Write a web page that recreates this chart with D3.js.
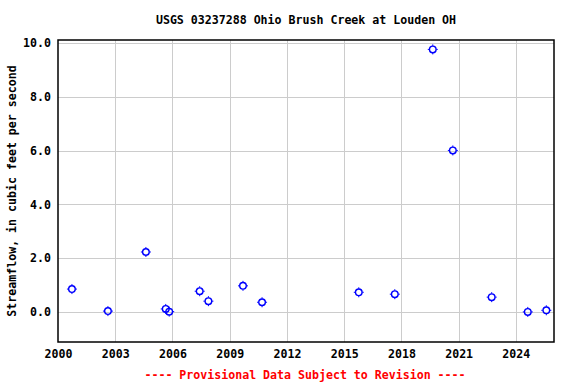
<!DOCTYPE html>
<html>
<head>
<meta charset="utf-8">
<script src="https://cdn.jsdelivr.net/npm/d3@7"></script>
<style>
  body { margin: 0; background: white; }
  text { font-family: "DejaVu Sans Mono", "Liberation Mono", monospace; font-weight: bold; }
</style>
</head>
<body>
<div id="chart"></div>
<script>
const dates = ["2000-09-24", "2002-08-14", "2004-08-10", "2005-08-25", "2005-10-30",
  "2007-06-06", "2007-11-20", "2009-09-12", "2010-09-12", "2015-10-08",
  "2017-08-28", "2019-08-25", "2020-09-12", "2022-09-26", "2024-08-17", "2025-08-07"];
const flows = [0.85, 0.03, 2.23, 0.11, 0.01, 0.77, 0.40, 0.97, 0.36, 0.73,
  0.66, 9.77, 6.01, 0.55, 0.0, 0.06];
const yTicks = [0, 2, 4, 6, 8, 10];
const xTickYears = [2000, 2003, 2006, 2009, 2012, 2015, 2018, 2021, 2024];

const title = "USGS 03237288 Ohio Brush Creek at Louden OH";
const yLabel = "Streamflow, in cubic feet per second";
const footer = "---- Provisional Data Subject to Revision ----";

const width = 576, height = 384;
const margin = {top: 40, right: 22, bottom: 42, left: 58};
const fontSize = 11.6;

const parseDate = d3.timeParse("%Y-%m-%d");
const data = dates.map((d, i) => ({date: parseDate(d), flow: flows[i]}));

const x = d3.scaleTime()
  .domain([new Date(2000, 0, 1), new Date(2026, 0, 1)])
  .range([margin.left, width - margin.right]);
const y = d3.scaleLinear()
  .domain([-1.12, 10.12])
  .range([height - margin.bottom, margin.top]);

const svg = d3.select("#chart").append("svg")
  .attr("width", width)
  .attr("height", height)
  .style("display", "block");

// grid
svg.append("g")
  .selectAll("line")
  .data(yTicks)
  .join("line")
  .attr("x1", margin.left).attr("x2", width - margin.right)
  .attr("y1", d => Math.round(y(d)) + 0.5).attr("y2", d => Math.round(y(d)) + 0.5)
  .attr("stroke", "#cccccc");

svg.append("g")
  .selectAll("line")
  .data(xTickYears.slice(1))
  .join("line")
  .attr("x1", d => Math.round(x(new Date(d, 0, 1))) + 0.5)
  .attr("x2", d => Math.round(x(new Date(d, 0, 1))) + 0.5)
  .attr("y1", margin.top).attr("y2", height - margin.bottom)
  .attr("stroke", "#cccccc");

// axes labels
let styleText = g => g.selectAll("text").attr("font-size", fontSize).attr("fill", "black")
  .attr("font-family", "DejaVu Sans Mono").attr("font-weight", "bold");

let yAxis = g => g
  .attr("transform", `translate(${margin.left},0)`)
  .call(d3.axisLeft(y).tickValues(yTicks).tickFormat(d3.format(".1f")).tickSize(0).tickPadding(7))
  .call(g => g.select(".domain").remove())
  .call(styleText);

let xAxis = g => g
  .attr("transform", `translate(0,${height - margin.bottom})`)
  .call(d3.axisBottom(x).tickValues(xTickYears.map(d => new Date(d, 0, 1)))
    .tickFormat(d3.timeFormat("%Y")).tickSize(0).tickPadding(8))
  .call(g => g.select(".domain").remove())
  .call(styleText);

svg.append("g").call(yAxis);
svg.append("g").call(xAxis);

// frame
svg.append("rect")
  .attr("x", margin.left).attr("y", margin.top)
  .attr("width", width - margin.left - margin.right)
  .attr("height", height - margin.top - margin.bottom)
  .attr("fill", "none")
  .attr("stroke", "black")
  .attr("stroke-width", 1.5);

// points: small circle with tiny ticks, like the USGS marker
const pts = svg.append("g")
  .selectAll("g")
  .data(data)
  .join("g")
  .attr("transform", d => `translate(${x(d.date)},${y(d.flow)})`)
  .attr("stroke", "#0000ff")
  .attr("fill", "none");

pts.append("circle")
  .attr("r", 3.3)
  .attr("stroke-width", 1.4);

pts.append("path")
  .attr("d", "M0,-5V-3.5M0,3.5V5M-5,0H-3.5M3.5,0H5")
  .attr("stroke-width", 1);

// texts
svg.append("text")
  .attr("x", (margin.left + width - margin.right) / 2)
  .attr("y", 24)
  .attr("text-anchor", "middle")
  .attr("font-size", fontSize)
  .text(title);

svg.append("text")
  .attr("transform", `translate(16,${(margin.top + height - margin.bottom) / 2}) rotate(-90)`)
  .attr("text-anchor", "middle")
  .attr("font-size", fontSize)
  .text(yLabel);

svg.append("text")
  .attr("x", 305)
  .attr("y", 379)
  .attr("text-anchor", "middle")
  .attr("font-size", fontSize)
  .attr("fill", "red")
  .text(footer);
</script>
</body>
</html>
